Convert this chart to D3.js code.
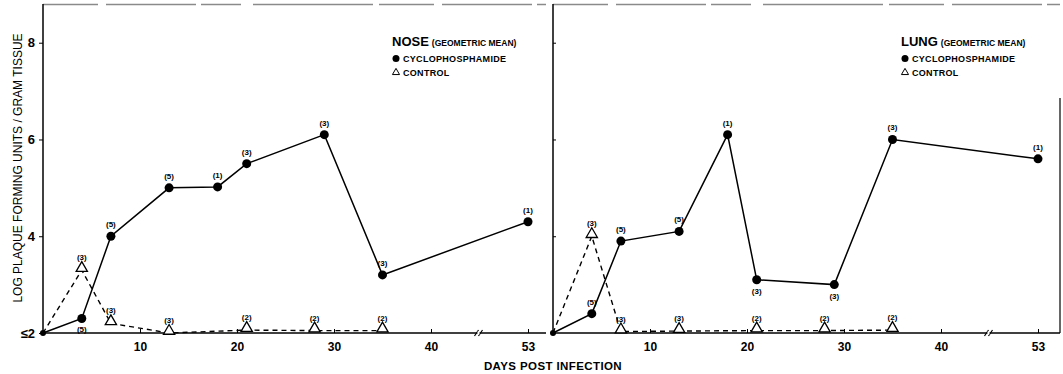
<!DOCTYPE html>
<html>
<head>
<meta charset="utf-8">
<script src="https://cdn.jsdelivr.net/npm/d3@7"></script>
<style>
  body { margin: 0; background: #fff; }
  svg { font-family: "Liberation Sans", Arial, Helvetica, sans-serif; }
  .tick text { font-weight: bold; }
</style>
</head>
<body>
<div id="chart"></div>
<script>
// ---- data ----
const xTicks = [10, 20, 30, 40, 53];
const yTicks = [2, 4, 6, 8];

const noseCycloDays = [0, 4, 7, 13, 18, 21, 29, 35, 53];
const noseCyclo     = [2.0, 2.3, 4.0, 5.0, 5.02, 5.5, 6.1, 3.2, 4.3];
const noseCycloN    = ["", "(5)", "(5)", "(5)", "(1)", "(3)", "(3)", "(3)", "(1)"];
const noseControlDays = [0, 4, 7, 13, 21, 28, 35];
const noseControl     = [2.0, 3.3, 2.2, 2.0, 2.06, 2.05, 2.05];
const noseControlN    = ["", "(3)", "(3)", "(3)", "(2)", "(2)", "(2)"];

const lungCycloDays = [0, 4, 7, 13, 18, 21, 29, 35, 53];
const lungCyclo     = [2.0, 2.4, 3.9, 4.1, 6.1, 3.1, 3.0, 6.0, 5.6];
const lungCycloN    = ["", "(5)", "(5)", "(5)", "(1)", "(3)", "(3)", "(3)", "(1)"];
const lungControlDays = [0, 4, 7, 13, 21, 28, 35];
const lungControl     = [2.0, 4.0, 2.03, 2.04, 2.05, 2.05, 2.06];
const lungControlN    = ["", "(3)", "(3)", "(3)", "(2)", "(2)", "(2)"];

const width = 1063, height = 374;

const svg = d3.select("#chart").append("svg")
    .attr("width", width)
    .attr("height", height);

const y = d3.scaleLinear().domain([2, 8.8]).range([333, 4]);

function drawPanel(opts) {
    const g = svg.append("g");
    const x0 = opts.left;
    // broken axis: 53 sits where 50 would be
    const x = d3.scaleLinear()
        .domain([0, 40, 53])
        .range([x0, x0 + 40 * 9.7, x0 + 50 * 9.7]);

    // top border, faded like the scan
    g.append("line")
        .attr("x1", x0).attr("x2", opts.right)
        .attr("y1", 4.5).attr("y2", 4.5)
        .attr("stroke", "#8a8a8a")
        .attr("stroke-width", 1.3)
        .attr("stroke-dasharray", "55,8,90,5,40,12,120,6");

    const yAxis = d3.axisLeft(y)
        .tickValues(yTicks)
        .tickSizeInner(opts.labels ? 4 : -3)
        .tickSizeOuter(0)
        .tickPadding(4)
        .tickFormat(d => opts.labels ? (d === 2 ? "≤2" : d) : "");
    g.append("g")
        .attr("transform", "translate(" + x0 + ",0)")
        .call(yAxis)
        .call(s => s.select(".domain").attr("stroke-width", 1.5).attr("d", "M0,4V333"))
        .call(s => s.selectAll("text").attr("font-size", 13));

    const xAxis = d3.axisBottom(x)
        .tickValues(xTicks)
        .tickSizeInner(-4)
        .tickSizeOuter(0)
        .tickPadding(9);
    g.append("g")
        .attr("transform", "translate(0,333)")
        .call(xAxis)
        .call(s => s.select(".domain")
            .attr("d", "M" + x0 + ",0H" + opts.right)
            .attr("stroke-width", 1.5))
        .call(s => s.selectAll("text").attr("font-size", 12));

    // axis break marks
    const bx = x(46.5);
    [-3, 1].forEach(o => {
        g.append("line")
            .attr("x1", bx + o - 2).attr("x2", bx + o + 2)
            .attr("y1", 336).attr("y2", 330)
            .attr("stroke", "#000").attr("stroke-width", 1.2);
    });
    g.append("rect")
        .attr("x", bx - 2).attr("y", 331.5)
        .attr("width", 2).attr("height", 3)
        .attr("fill", "#fff");

    if (opts.rightEdge) {
        g.append("line")
            .attr("x1", opts.right).attr("x2", opts.right)
            .attr("y1", 98).attr("y2", 333)
            .attr("stroke", "#000").attr("stroke-width", 1.2);
    }

    const line = d3.line().x(d => x(d[0])).y(d => y(d[1]));

    // control, dashed with open triangles
    const ctrl = opts.controlDays.map((d, i) => [d, opts.control[i], opts.controlN[i]]);
    g.append("path")
        .datum(ctrl)
        .attr("d", line)
        .attr("fill", "none")
        .attr("stroke", "#000")
        .attr("stroke-width", 1.4)
        .attr("stroke-dasharray", "5,4");

    const tri = d3.symbol().type(d3.symbolTriangle).size(55);
    g.selectAll(".tri").data(ctrl.slice(1)).enter()
        .append("path")
        .attr("class", "tri")
        .attr("d", tri)
        .attr("transform", d => "translate(" + x(d[0]) + "," + (y(d[1]) - 2) + ")")
        .attr("fill", "#fff")
        .attr("stroke", "#000")
        .attr("stroke-width", 1.3);

    g.selectAll(".ctrlN").data(ctrl.filter(d => d[2])).enter()
        .append("text")
        .attr("x", d => x(d[0]))
        .attr("y", d => y(d[1]) - 10)
        .attr("text-anchor", "middle")
        .attr("font-size", 8)
        .attr("font-weight", "bold")
        .text(d => d[2]);

    // cyclophosphamide, solid with filled circles
    const cyc = opts.cycloDays.map((d, i) => [d, opts.cyclo[i], opts.cycloN[i], opts.below.includes(i)]);
    g.append("path")
        .datum(cyc)
        .attr("d", line)
        .attr("fill", "none")
        .attr("stroke", "#000")
        .attr("stroke-width", 1.5);

    g.selectAll(".dot").data(cyc).enter()
        .append("circle")
        .attr("cx", d => x(d[0]))
        .attr("cy", d => y(d[1]))
        .attr("r", d => d[0] === 0 ? 3 : 4.5)
        .attr("fill", "#000");

    g.selectAll(".cycN").data(cyc.filter(d => d[2])).enter()
        .append("text")
        .attr("x", d => x(d[0]))
        .attr("y", d => d[3] ? y(d[1]) + 14 : y(d[1]) - 9)
        .attr("text-anchor", "middle")
        .attr("font-size", 8)
        .attr("font-weight", "bold")
        .text(d => d[2]);

    // legend
    const lg = g.append("g").attr("transform", "translate(" + opts.legendX + ",0)");
    const title = lg.append("text").attr("y", 46).attr("font-weight", "bold");
    title.append("tspan").attr("font-size", 13).text(opts.title);
    title.append("tspan").attr("font-size", 8.5).attr("dx", 3).text("(GEOMETRIC MEAN)");
    lg.append("circle").attr("cx", 4).attr("cy", 58.5).attr("r", 3.5).attr("fill", "#000");
    lg.append("text").attr("x", 11).attr("y", 61.5)
        .attr("font-size", 9).attr("font-weight", "bold").attr("letter-spacing", 0.3)
        .text("CYCLOPHOSPHAMIDE");
    lg.append("path")
        .attr("d", d3.symbol().type(d3.symbolTriangle).size(22))
        .attr("transform", "translate(4,72.5)")
        .attr("fill", "#fff").attr("stroke", "#000").attr("stroke-width", 1);
    lg.append("text").attr("x", 11).attr("y", 75.5)
        .attr("font-size", 9).attr("font-weight", "bold").attr("letter-spacing", 0.3)
        .text("CONTROL");
}

drawPanel({
    left: 43, right: 546, labels: true, title: "NOSE", legendX: 392,
    cycloDays: noseCycloDays, cyclo: noseCyclo, cycloN: noseCycloN, below: [1],
    controlDays: noseControlDays, control: noseControl, controlN: noseControlN
});

drawPanel({
    left: 553, right: 1060, labels: false, title: "LUNG", legendX: 901, rightEdge: true,
    cycloDays: lungCycloDays, cyclo: lungCyclo, cycloN: lungCycloN, below: [5, 6],
    controlDays: lungControlDays, control: lungControl, controlN: lungControlN
});

// y axis title
svg.append("text")
    .attr("transform", "translate(22,168) rotate(-90)")
    .attr("text-anchor", "middle")
    .attr("font-size", 12)
    .text("LOG PLAQUE FORMING UNITS / GRAM TISSUE");

// x axis title
svg.append("text")
    .attr("x", 553).attr("y", 370)
    .attr("text-anchor", "middle")
    .attr("font-size", 11.5)
    .attr("font-weight", "bold")
    .attr("letter-spacing", 0.4)
    .text("DAYS POST INFECTION");
</script>
</body>
</html>
